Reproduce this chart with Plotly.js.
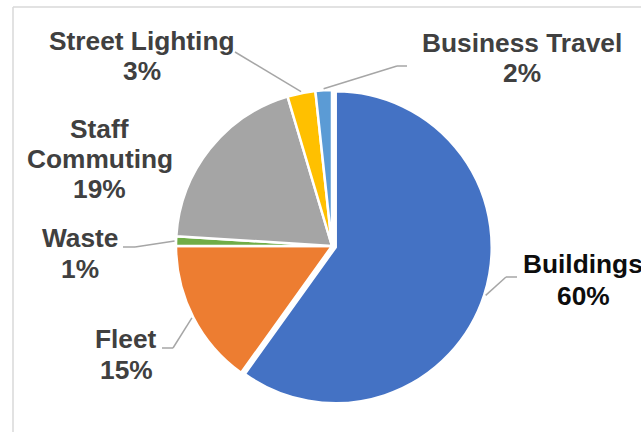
<!DOCTYPE html>
<html><head><meta charset="utf-8">
<script src="https://cdn.plot.ly/plotly-3.0.1.min.js"></script>
<style>html,body{margin:0;padding:0;background:#fff;overflow:hidden}#chart{width:641px;height:432px}</style>
</head><body><div id="chart"></div>
<script>
// ---- data ----
const categories = ['Buildings', 'Fleet', 'Waste', 'Staff Commuting', 'Street Lighting', 'Business Travel'];
const values = [59.9, 15.1, 1.0, 19.4, 2.9, 1.7];
const labelLines = [['Buildings'], ['Fleet'], ['Waste'], ['Staff', 'Commuting'], ['Street Lighting'], ['Business Travel']];

// ---- styling / layout ----
const colors = ['#4472C4', '#ED7D31', '#70AD47', '#A5A5A5', '#FFC000', '#5B9BD5'];
const textColors = ['#0D0D0D', '#404040', '#404040', '#404040', '#404040', '#404040'];
const W = 641, H = 432;
const CX = 332, CY = 246, R = 156, PULL = 0.025;
const pulls = [PULL, 0, 0, 0, 0, 0];
const FS = 26.3;
const labelPos = [
  {x: 583,   base: [273, 305],      end: [517, 277], elbow: [506, 277]},
  {x: 126,   base: [348, 379],      end: [162, 348], elbow: [173, 348]},
  {x: 79.5,  base: [247, 278],      end: [123, 247], elbow: [135, 247]},
  {x: 99.5,  base: [138, 168, 198], end: null,       elbow: null},
  {x: 141.5, base: [50, 80],        end: [235, 52],  elbow: null},
  {x: 521.5, base: [52, 82],        end: [407, 66],  elbow: [397, 66]}
];

const px = x => x / W;
const py = y => 1 - y / H;
const half = R * (1 + PULL);

const total = values.reduce((a, b) => a + b, 0);
const annotations = [];
const shapes = [];
let cum = 0;
values.forEach((v, i) => {
  const mid = (cum + v / 2) / total * 2 * Math.PI;
  cum += v;
  const pct = Math.round(v / total * 100) + '%';
  const lines = labelLines[i].concat([pct]);
  const lp = labelPos[i];
  lines.forEach((t, k) => {
    annotations.push({
      text: t, xref: 'paper', yref: 'paper', x: px(lp.x), y: py(lp.base[k] - 0.3465 * FS),
      xanchor: 'center', yanchor: 'middle', showarrow: false,
      font: {family: 'Liberation Sans, Arial, sans-serif', size: FS, weight: 'bold', color: textColors[i]}
    });
  });
  if (lp.end) {
    const off = R * pulls[i];
    const ax = CX + off * Math.sin(mid) + (R + 1.5) * Math.sin(mid);
    const ay = CY - off * Math.cos(mid) - (R + 1.5) * Math.cos(mid);
    const pts = [lp.end];
    if (lp.elbow) pts.push(lp.elbow);
    pts.push([ax, ay]);
    for (let k = 0; k < pts.length - 1; k++) {
      shapes.push({type: 'line', xref: 'paper', yref: 'paper',
        x0: px(pts[k][0]), y0: py(pts[k][1]), x1: px(pts[k + 1][0]), y1: py(pts[k + 1][1]),
        line: {color: '#A6A6A6', width: 1.5}});
    }
  }
});
// chart area border (top and left edges visible)
shapes.push({type: 'line', xref: 'paper', yref: 'paper', x0: px(13), y0: py(7), x1: px(W + 5), y1: py(7), line: {color: '#D9D9D9', width: 1.5}});
shapes.push({type: 'line', xref: 'paper', yref: 'paper', x0: px(13), y0: py(7), x1: px(13), y1: py(H + 5), line: {color: '#D9D9D9', width: 1.5}});

const trace = {
  type: 'pie',
  labels: categories,
  values: values,
  sort: false,
  direction: 'clockwise',
  rotation: 0,
  pull: pulls,
  textinfo: 'none',
  hoverinfo: 'skip',
  marker: {colors: colors, line: {color: '#FFFFFF', width: 2.5}},
  domain: {x: [px(CX - half), px(CX + half)], y: [py(CY + half), py(CY - half)]},
  showlegend: false
};

Plotly.newPlot('chart', [trace], {
  width: W, height: H,
  margin: {l: 0, r: 0, t: 0, b: 0},
  paper_bgcolor: '#FFFFFF',
  showlegend: false,
  annotations: annotations,
  shapes: shapes
}, {staticPlot: true, displayModeBar: false});
</script>
</body></html>
